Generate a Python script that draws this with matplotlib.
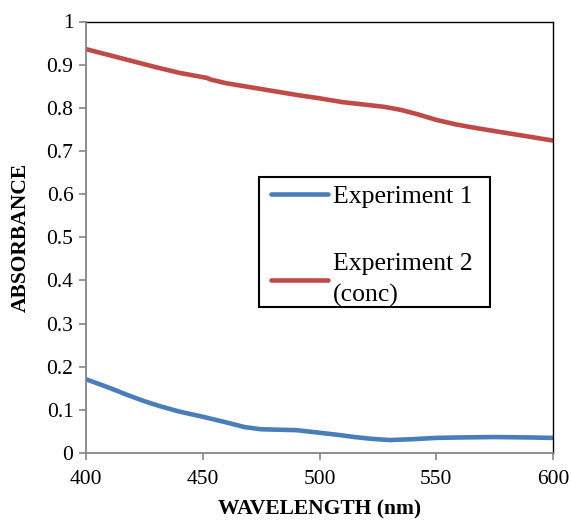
import matplotlib
matplotlib.use("Agg")
import matplotlib.pyplot as plt
from matplotlib.patches import Rectangle
import numpy as np

wl_exp1 = [400, 405, 410, 418, 425, 432, 440, 450, 460, 468, 475, 482, 490, 500, 508, 515, 522, 530, 540, 550, 560, 575, 590, 600]
abs_exp1 = [0.171, 0.161, 0.151, 0.134, 0.120, 0.108, 0.096, 0.084, 0.071, 0.060, 0.055, 0.054, 0.053, 0.047, 0.042, 0.037, 0.033, 0.030, 0.032, 0.035, 0.036, 0.037, 0.036, 0.035]

wl_exp2 = [400, 410, 420, 430, 440, 450, 452, 453, 460, 470, 480, 490, 500, 510, 520, 528, 535, 542, 550, 558, 565, 575, 590, 600]
abs_exp2 = [0.936, 0.922, 0.908, 0.894, 0.881, 0.871, 0.869, 0.866, 0.857, 0.848, 0.839, 0.830, 0.822, 0.813, 0.807, 0.802, 0.795, 0.785, 0.772, 0.762, 0.755, 0.746, 0.733, 0.724]

labels = ["Experiment 1", "Experiment 2\n(conc)"]
colors = ["#4A7EBB", "#BE4B48"]

plt.rcParams['font.family'] = ['Liberation Serif', 'DejaVu Serif']

fig = plt.figure(figsize=(5.71, 5.21), dpi=100)
ax = fig.add_axes([86/571, 1 - 453/521, 467/571, 431.5/521])

ax.plot(wl_exp1, abs_exp1, color=colors[0], lw=3.3, solid_capstyle='round', label=labels[0])
ax.plot(wl_exp2, abs_exp2, color=colors[1], lw=3.3, solid_capstyle='round', label=labels[1])

ax.set_xlim(400, 600)
ax.set_ylim(0, 1)
ax.set_xticks([400, 450, 500, 550, 600])
ax.set_yticks(np.arange(0, 1.01, 0.1))
ax.set_yticklabels(["0", "0.1", "0.2", "0.3", "0.4", "0.5", "0.6", "0.7", "0.8", "0.9", "1"])

for s in ['left', 'bottom']:
    ax.spines[s].set_color('#868686')
    ax.spines[s].set_linewidth(1.3)
for s in ['top', 'right']:
    ax.spines[s].set_color('black')
    ax.spines[s].set_linewidth(1.0)
ax.spines['left'].set_zorder(5)
ax.spines['bottom'].set_zorder(5)

ax.tick_params(axis='both', direction='out', length=5, width=1.2, color='#868686', labelsize=15.5)
ax.tick_params(axis='y', pad=4)
ax.tick_params(axis='x', pad=7)

ax.set_xlabel("WAVELENGTH (nm)", fontsize=15.5, fontweight='bold', labelpad=7.5)
ax.set_ylabel("ABSORBANCE", fontsize=15.5, fontweight='bold', labelpad=11)

# legend frame
ax.add_patch(Rectangle((173/467, 146/431.5), 231/467, 130/431.5, transform=ax.transAxes,
                       facecolor='white', edgecolor='black', linewidth=1.5, zorder=4))

leg = ax.legend(loc='upper left', bbox_to_anchor=(185/467, 267.7/431.5), fontsize=18.5, frameon=False,
                handlelength=2.2, handletextpad=0.2,
                labelspacing=1.75, borderpad=0.0, borderaxespad=0)
leg.set_zorder(6)
for t in leg.get_texts():
    t.set_linespacing(1.5)

fig.savefig("out.png", dpi=100, facecolor='white')
